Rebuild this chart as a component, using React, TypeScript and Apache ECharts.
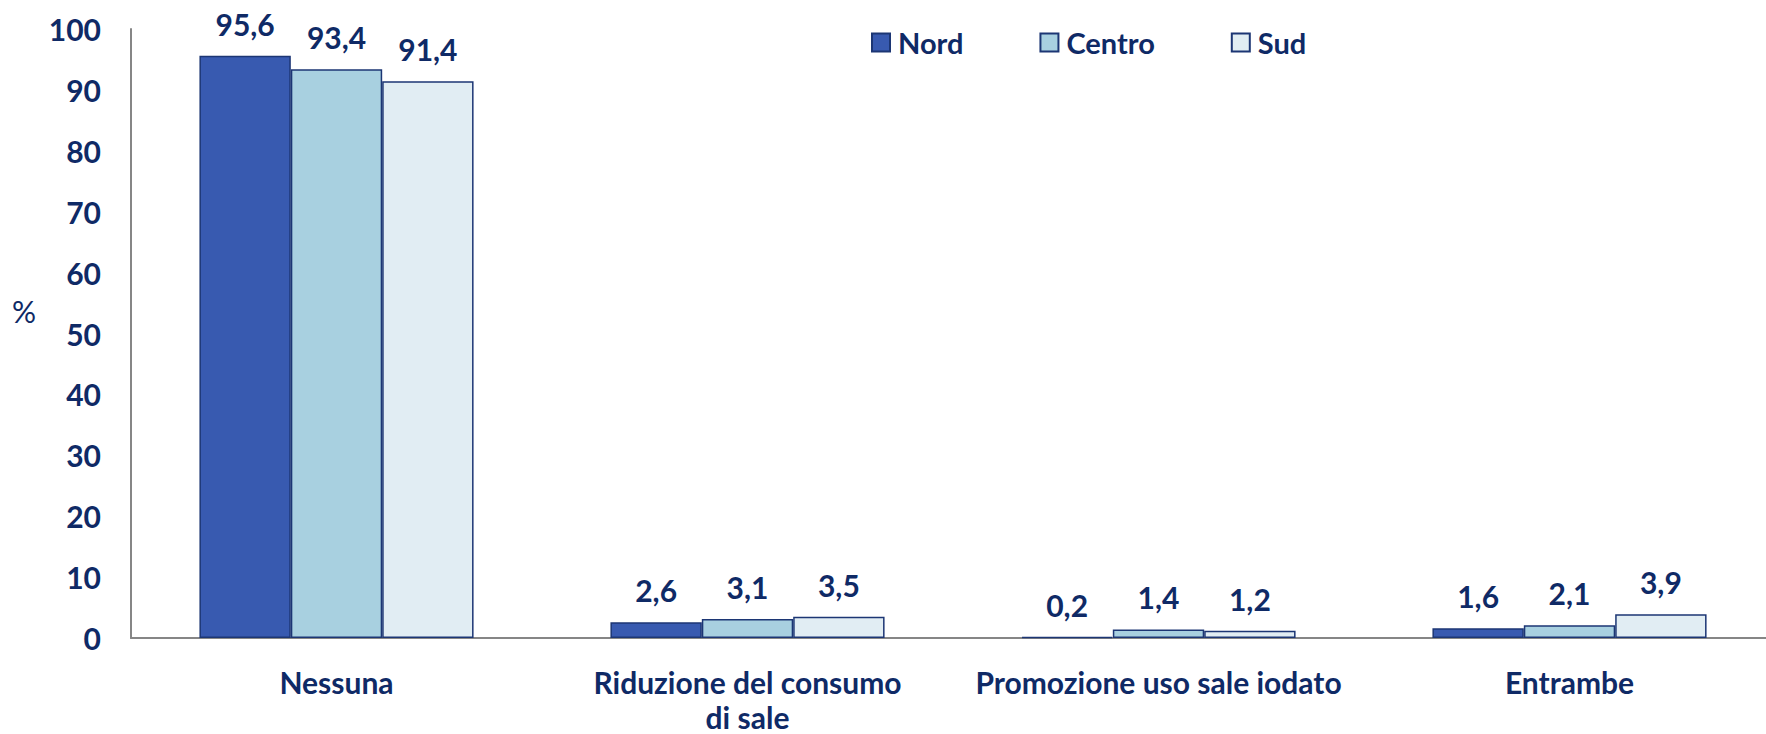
import React, { useEffect, useRef } from "react";
import * as echarts from "echarts";

const categories = ["Nessuna", "Riduzione del consumo\ndi sale", "Promozione uso sale iodato", "Entrambe"];
const seriesNames = ["Nord", "Centro", "Sud"];
const nord = [95.6, 2.6, 0.2, 1.6];
const centro = [93.4, 3.1, 1.4, 2.1];
const sud = [91.4, 3.5, 1.2, 3.9];
const colors = ["#385ab0", "#a8d0e0", "#e1edf3"];
const yTicks = { min: 0, max: 100, interval: 10 };

const TEXT = "#0f2a66";
const FONT = "Lato";

export default function App() {
  const ref = useRef<HTMLDivElement>(null);
  useEffect(() => {
    if (!ref.current) return;
    const chart = echarts.init(ref.current, null, { renderer: "svg" });
    const values = [nord, centro, sud];
    chart.setOption({
      animation: false,
      backgroundColor: "#ffffff",
      textStyle: { fontFamily: FONT },
      grid: { left: 131, right: 5, top: 29, bottom: 94, containLabel: false },
      legend: {
        top: 23,
        left: 866,
        itemWidth: 18,
        itemHeight: 18,
        itemGap: 76,
        icon: "rect",
        data: seriesNames,
        textStyle: { color: TEXT, fontFamily: FONT, fontWeight: "bold", fontSize: 29, padding: [0, 0, 0, 3] },
      },
      graphic: [
        {
          type: "text",
          left: 12,
          top: 296,
          style: { text: "%", fill: TEXT, font: `30px ${FONT}` },
        },
      ],
      xAxis: {
        type: "category",
        data: categories,
        axisLine: { lineStyle: { color: "#868686", width: 2 } },
        axisTick: { show: false },
        axisLabel: {
          color: TEXT,
          fontFamily: FONT,
          fontWeight: "bold",
          fontSize: 30,
          lineHeight: 35,
          margin: 26,
          interval: 0,
        },
      },
      yAxis: {
        type: "value",
        min: yTicks.min,
        max: yTicks.max,
        interval: yTicks.interval,
        axisLine: { show: true, lineStyle: { color: "#868686", width: 2 } },
        axisTick: { show: false },
        splitLine: { show: false },
        axisLabel: {
          color: TEXT,
          fontFamily: FONT,
          fontWeight: "bold",
          fontSize: 30,
          margin: 30,
        },
      },
      series: seriesNames.map((name, i) => ({
        name,
        type: "bar",
        data: values[i],
        barGap: "0%",
        barCategoryGap: "33.3%",
        itemStyle: { color: colors[i], borderColor: "#1c3674", borderWidth: 1.5 },
        label: {
          show: true,
          position: "top",
          distance: 17,
          color: TEXT,
          fontFamily: FONT,
          fontWeight: "bold",
          fontSize: 30,
          formatter: (p: any) => String(p.value.toFixed(1)).replace(".", ","),
        },
      })),
    });
    return () => chart.dispose();
  }, []);
  return (
    <div style={{ position: "fixed", left: 0, top: 0, width: 1766, height: 734, overflow: "hidden", background: "#fff" }}>
      <div ref={ref} style={{ width: 1780, height: 734 }} />
    </div>
  );
}
